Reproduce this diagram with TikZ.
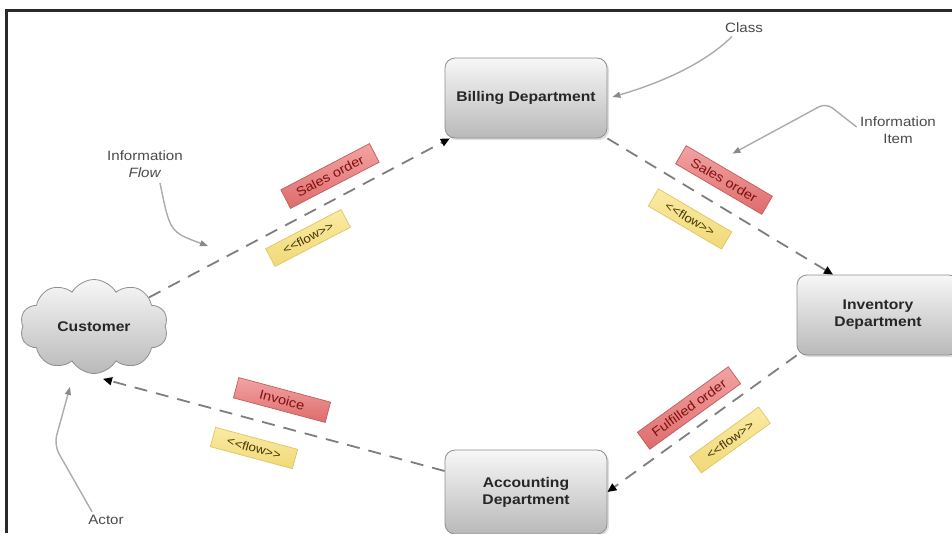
\documentclass[tikz,border=0pt]{standalone}
\usepackage{fontspec}
\setmainfont{Liberation Sans}[FakeStretch=1.12]
\usetikzlibrary{arrows.meta,shapes.symbols,shadows,calc}

\definecolor{framecol}{HTML}{2A2A2A}
\definecolor{boxtop}{HTML}{F7F7F7}
\definecolor{boxbot}{HTML}{B9B9B9}
\definecolor{boxborder}{HTML}{8E8E8E}
\definecolor{flowgray}{HTML}{7E7E7E}
\definecolor{notegray}{HTML}{ABABAB}
\definecolor{notetext}{HTML}{4A4A4A}
\definecolor{redtop}{HTML}{F2A3A3}
\definecolor{redbot}{HTML}{DE6C6C}
\definecolor{redborder}{HTML}{C25C5C}
\definecolor{redtext}{HTML}{801010}
\definecolor{yeltop}{HTML}{FAEBA2}
\definecolor{yelbot}{HTML}{F1D978}
\definecolor{yelborder}{HTML}{E0C466}
\definecolor{yeltext}{HTML}{453505}

\tikzset{
  dept/.style={rectangle, rounded corners=10pt, draw=boxborder, line width=0.8pt,
    top color=boxtop, bottom color=boxbot, minimum width=162pt, minimum height=80pt,
    align=center, text=black!85, font=\fontsize{14}{17}\selectfont\bfseries,
    drop shadow={opacity=0.25, shadow xshift=2pt, shadow yshift=-2pt}},
  actorcloud/.style={cloud, cloud puffs=10, cloud puff arc=120, aspect=1.6,
    draw=boxborder, line width=0.8pt, top color=boxtop, bottom color=boxbot,
    minimum width=148pt, minimum height=94pt, inner sep=0pt, text=black!85,
    font=\fontsize{14}{17}\selectfont\bfseries},
  flowline/.style={draw=flowgray, line width=1.8pt, dash pattern=on 13pt off 9pt,
    -{Triangle[length=9pt, width=8pt, color=black]}},
  redtag/.style={rectangle, draw=redborder, line width=0.7pt, top color=redtop,
    bottom color=redbot, text=redtext, minimum width=#1, minimum height=21pt,
    inner sep=2pt, font=\fontsize{13}{15}\selectfont},
  redtag/.default=100pt,
  yeltag/.style={rectangle, draw=yelborder, line width=0.7pt, top color=yeltop,
    bottom color=yelbot, text=yeltext, minimum width=85pt, minimum height=20pt,
    inner sep=2pt, font=\fontsize{12}{14}\selectfont},
  notetxt/.style={align=center, text=notetext, font=\fontsize{13.5}{17}\selectfont},
  notearrow/.style={draw=notegray, line width=1.4pt,
    -{Triangle[length=8pt, width=6pt, color=notegray!80!black]}}
}

\begin{document}
\begin{tikzpicture}[x=1pt, y=-1pt]
\useasboundingbox (0,0) rectangle (952,533);

% frame
\draw[line width=3pt, draw=framecol] (6.5,533) -- (6.5,10) -- (952,10);

% actor and departments
\node[actorcloud] (customer) at (94,326.5) {Customer};
\node[dept] (billing) at (526,98) {Billing Department};
\node[dept] (inventory) at (878,315) {Inventory\\Department};
\node[dept, minimum height=84pt] (accounting) at (526,492) {Accounting\\Department};

% information flows
\draw[flowline] (customer) -- (billing);
\draw[flowline] (billing.south east) -- ($(inventory.north)+(-45,0)$);
\draw[flowline] (inventory.south west) -- (accounting.east);
\draw[flowline] ($(accounting.west)+(0,-21)$) -- ($(customer.south)+(9,5)$);

% conveyed items and stereotypes
\node[redtag, rotate=27.5] (item1) at (330,176) {Sales order};
\node[yeltag, rotate=27.5] (st1) at (308,238) {<{}<flow>{}>};
\node[redtag, rotate=-30.4] (item2) at (724,180) {Sales order};
\node[yeltag, rotate=-30.4] (st2) at (690,219) {<{}<flow>{}>};
\node[redtag=112pt, rotate=35.8] (item3) at (689,408) {Fulfilled order};
\node[yeltag, rotate=35.8] (st3) at (730,440) {<{}<flow>{}>};
\node[redtag=95pt, rotate=-15] (item4) at (282,400) {Invoice};
\node[yeltag, rotate=-15] (st4) at (254,448) {<{}<flow>{}>};

% annotations
\node[notetxt] (classnote) at (744,28) {Class};
\node[notetxt] (itemnote) at (898,130) {Information\\Item};
\node[notetxt] (flownote) at (145,164) {Information\\\textit{Flow}};
\node[notetxt] (actornote) at (106,520) {Actor};

\coordinate (itembend) at (826,103);
\coordinate (flowtip) at (208,246);
\coordinate (actorbend) at (54,445);

\draw[notearrow] ($(classnote.south)+(-12,0)$) .. controls (700,68) and (650,86) .. ($(billing.east)+(5,-1)$);
\draw[notearrow, rounded corners=8pt] ($(itemnote.west)+(0,-3)$) -- (itembend) -- ($(item2.north)+(3,-17)$);
\draw[notearrow] ($(flownote.south)+(15,2)$) .. controls (170,232) .. (flowtip);
\draw[notearrow, rounded corners=10pt] ($(actornote.north)+(-14,0)$) -- (actorbend) -- ($(customer.south)+(-24,13)$);
\end{tikzpicture}
\end{document}
